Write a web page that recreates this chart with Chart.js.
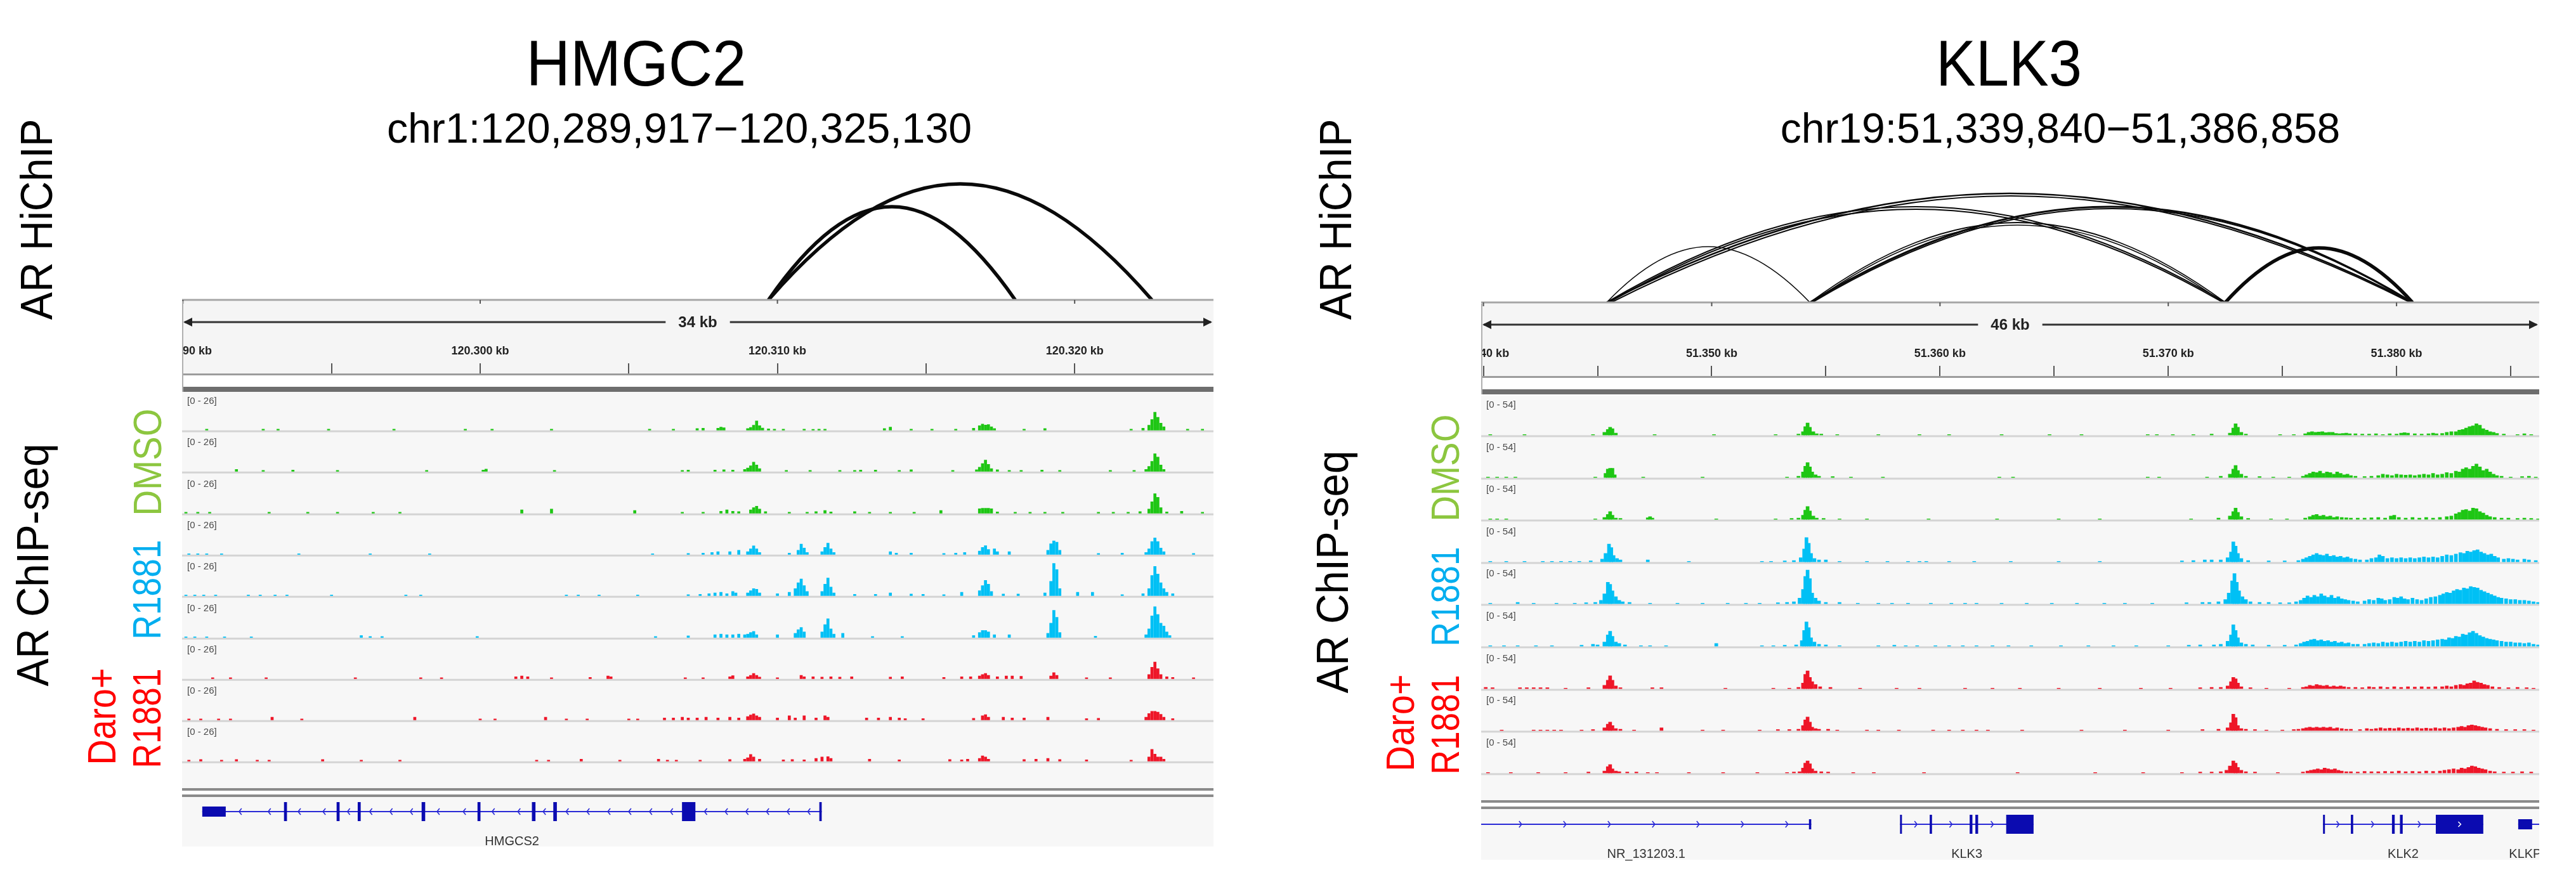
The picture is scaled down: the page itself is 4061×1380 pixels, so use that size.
<!DOCTYPE html>
<html>
<head>
<meta charset="utf-8">
<script src="https://cdn.jsdelivr.net/npm/chart.js@4.4.1/dist/chart.umd.min.js"></script>
<style>
  body { margin:0; width:4061px; height:1380px; background:#fff; position:relative; overflow:hidden;
         font-family:"Liberation Sans", Arial, Helvetica, sans-serif; }
  canvas { position:absolute; display:block; }
  .blk { position:absolute; }
  .lbl { position:absolute; white-space:nowrap; line-height:1; font-family:"Liberation Sans", Arial, sans-serif; }
</style>
</head>
<body>
<script>
// ---------------- HMGC2 panel data (genomic positions in kb) ----------------
var hmgcRange = [120289.97, 120324.67];
var hmgcArcs = [[120309.7, 120318.0, 147], [120309.7, 120322.6, 183]];   // [anchor1, anchor2, score]
var hmgcDataRange = 26;

var hmgcDmso1 = [[120290.8,0.8],[120292.7,0.8],[120293.2,0.8],[120294.9,0.8],[120297.1,0.8],[120299.5,0.8],[120300.4,0.8],[120302.4,0.8],[120305.7,0.8],[120306.5,0.8],[120307.3,1.2],[120307.5,1.5],
  [120308.0,1.5],[120308.1,2.2],[120308.2,1.8],[120309.0,1.2],[120309.1,2.0],[120309.2,3.5],[120309.3,6.5],[120309.4,3.2],[120309.5,1.6],[120309.7,1.0],[120309.9,0.8],
  [120310.2,0.8],[120310.9,0.8],[120311.2,0.7],[120311.4,0.8],[120311.6,0.8],[120313.6,1.2],[120313.8,2.2],[120314.5,0.8],[120315.2,0.8],[120316.0,0.8],
  [120316.6,1.5],[120316.8,3.2],[120316.9,4.3],[120317.0,3.6],[120317.1,4.0],[120317.2,2.5],[120317.3,1.2],[120318.3,0.8],[120319.0,1.2],[120321.9,0.8],[120322.3,1.5],
  [120322.5,3.5],[120322.6,7.5],[120322.7,12.5],[120322.8,9.0],[120322.9,5.0],[120323.0,2.5],[120323.8,0.8],[120324.3,0.8]];
var hmgcDmso2 = [[120291.8,1.5],[120292.7,0.8],[120293.7,1.0],[120295.2,0.8],[120298.2,0.8],[120300.1,1.0],[120300.2,1.7],[120302.5,0.8],
  [120306.8,0.8],[120307.0,1.0],[120307.9,1.0],[120308.2,1.2],[120308.5,1.0],[120308.9,1.5],[120309.0,2.5],[120309.1,4.0],[120309.2,6.5],[120309.3,4.5],[120309.4,2.0],
  [120310.3,0.8],[120311.1,0.8],[120312.1,0.8],[120312.6,0.8],[120312.8,1.0],[120313.3,1.0],[120314.1,0.8],[120314.5,1.2],[120315.9,0.8],
  [120316.7,1.2],[120316.8,3.0],[120316.9,5.5],[120317.0,7.9],[120317.1,5.0],[120317.2,2.0],[120317.4,1.2],[120317.8,0.8],[120318.2,0.8],
  [120318.9,1.0],[120319.5,0.8],[120321.2,0.8],[120322.0,0.8],[120322.4,1.5],[120322.5,3.5],[120322.6,7.0],[120322.7,12.3],[120322.8,10.0],[120322.9,4.5],[120323.0,1.5]];
var hmgcDmso3 = [[120290.1,0.8],[120290.5,0.8],[120290.9,0.8],[120292.9,0.8],[120294.2,0.8],[120295.2,0.8],[120296.4,0.8],[120297.3,0.8],
  [120301.4,2.5],[120302.4,3.0],[120305.2,2.0],[120306.8,0.8],[120307.5,0.8],[120308.1,1.5],[120308.3,2.5],[120308.5,1.5],[120308.7,1.2],
  [120309.1,2.5],[120309.2,4.0],[120309.3,5.0],[120309.4,3.0],[120309.6,1.2],[120310.4,0.8],[120311.0,0.8],[120311.3,1.2],[120311.6,2.0],[120311.8,1.0],
  [120312.6,1.2],[120313.1,0.8],[120313.8,0.8],[120314.6,0.8],[120315.5,2.0],[120316.8,3.2],[120316.9,3.5],[120317.0,3.5],[120317.1,3.5],[120317.2,3.2],[120317.4,1.0],
  [120318.0,0.8],[120318.5,0.8],[120319.0,0.8],[120319.6,0.8],[120320.8,0.8],[120321.3,0.8],[120321.8,0.8],[120322.2,1.2],
  [120322.5,3.0],[120322.6,8.0],[120322.7,13.5],[120322.8,11.0],[120322.9,4.0],[120323.1,1.0],[120323.6,1.5],[120324.3,0.8]];
var hmgcR1881a = [[120290.2,0.6],[120290.5,0.6],[120290.8,0.6],[120291.3,0.6],[120293.9,0.6],[120296.3,0.6],[120298.3,0.6],[120305.8,0.6],
  [120307.0,0.8],[120307.5,1.0],[120307.8,1.5],[120308.0,2.0],[120308.4,2.0],[120308.7,3.0],[120309.0,2.0],[120309.1,4.0],[120309.2,6.0],[120309.3,4.0],[120309.4,1.5],
  [120310.4,1.0],[120310.7,3.0],[120310.8,7.2],[120310.9,4.5],[120311.0,1.5],[120311.5,2.0],[120311.6,5.0],[120311.7,7.9],[120311.8,4.0],[120311.9,1.5],
  [120313.8,2.0],[120314.0,1.0],[120314.5,1.0],[120315.6,0.8],[120316.0,1.0],[120316.3,1.5],[120316.8,2.5],[120316.9,5.0],[120317.0,6.2],[120317.1,3.5],[120317.3,4.0],[120317.4,2.0],[120317.8,2.0],
  [120319.1,3.0],[120319.2,7.5],[120319.3,9.4],[120319.4,8.5],[120319.5,3.0],[120320.8,0.8],[120321.6,1.0],
  [120322.4,1.5],[120322.5,4.0],[120322.6,9.0],[120322.7,11.5],[120322.8,9.0],[120322.9,4.5],[120323.0,2.0],[120324.0,0.8]];
var hmgcR1881b = [[120290.1,0.6],[120290.4,0.6],[120290.7,0.6],[120291.1,0.6],[120292.2,0.6],[120292.6,0.6],[120293.1,0.6],[120293.5,0.6],[120295.0,0.6],[120297.5,0.6],[120298.0,0.6],
  [120302.9,0.6],[120303.3,0.6],[120304.0,0.6],[120305.3,0.6],[120307.0,0.8],[120307.4,1.0],[120307.7,1.5],[120307.9,2.0],[120308.1,2.5],[120308.3,1.5],[120308.5,3.0],[120308.6,2.0],
  [120309.0,2.0],[120309.1,3.5],[120309.2,5.0],[120309.3,4.5],[120309.4,2.0],[120310.0,1.5],[120310.4,2.5],[120310.6,5.0],[120310.7,9.0],[120310.8,11.6],[120310.9,7.0],[120311.0,3.0],
  [120311.5,3.0],[120311.6,8.0],[120311.7,12.3],[120311.8,6.0],[120311.9,2.0],[120312.6,1.0],[120313.3,1.0],[120313.8,2.0],[120314.5,1.2],[120314.9,1.0],[120315.6,0.8],[120316.2,2.5],
  [120316.8,3.5],[120316.9,7.0],[120317.0,10.6],[120317.1,8.0],[120317.2,3.0],[120317.6,1.2],[120318.1,1.2],[120319.0,2.0],[120319.2,10.0],[120319.3,22.3],[120319.4,18.0],[120319.5,5.0],
  [120320.1,2.5],[120320.6,2.5],[120321.6,0.8],[120322.3,1.5],[120322.5,5.0],[120322.6,14.0],[120322.7,20.2],[120322.8,15.0],[120322.9,9.0],[120323.0,5.0],[120323.1,2.5],[120323.3,1.5]];
var hmgcR1881c = [[120290.1,0.6],[120290.4,0.6],[120290.8,0.6],[120291.4,0.6],[120292.3,0.6],[120296.0,1.5],[120296.3,0.8],[120296.7,0.8],[120299.9,0.8],[120305.9,0.8],[120307.0,1.2],
  [120307.9,2.0],[120308.1,2.5],[120308.3,2.0],[120308.5,2.0],[120308.7,2.5],[120308.9,2.0],[120309.0,2.5],[120309.1,3.5],[120309.2,4.3],[120309.3,2.0],[120310.0,2.0],
  [120310.6,3.0],[120310.7,5.5],[120310.8,7.0],[120310.9,4.0],[120311.5,4.0],[120311.6,9.0],[120311.7,13.0],[120311.8,6.0],[120311.9,2.5],[120312.2,3.0],[120313.2,0.8],[120314.2,0.8],
  [120316.6,1.5],[120316.8,3.5],[120316.9,5.0],[120317.0,5.0],[120317.1,4.0],[120317.3,2.0],[120317.8,2.0],[120319.1,3.0],[120319.2,10.0],[120319.3,18.8],[120319.4,14.0],[120319.5,3.5],
  [120320.7,1.0],[120322.4,2.0],[120322.5,6.0],[120322.6,15.0],[120322.7,21.3],[120322.8,16.0],[120322.9,10.0],[120323.0,8.0],[120323.1,4.0],[120323.2,1.5]];
var hmgcDaroA = [[120291.0,0.8],[120291.6,0.8],[120292.8,0.8],[120295.8,0.8],[120298.0,0.8],[120298.7,0.8],[120301.2,1.5],[120301.4,2.0],[120301.6,1.5],[120302.4,0.8],[120303.7,1.0],[120304.3,2.0],[120304.4,1.5],
  [120306.9,0.8],[120307.5,0.8],[120308.4,1.5],[120308.5,2.2],[120309.0,1.5],[120309.1,2.5],[120309.2,3.7],[120309.3,2.5],[120309.4,1.2],[120310.0,0.8],
  [120310.8,2.5],[120310.9,1.5],[120311.2,1.5],[120311.5,1.2],[120311.8,1.5],[120312.1,1.2],[120312.5,1.5],[120313.8,1.2],[120314.2,1.5],
  [120315.6,1.0],[120316.2,1.5],[120316.5,1.5],[120316.8,2.0],[120316.9,3.0],[120317.0,3.7],[120317.1,2.5],[120317.4,1.5],[120317.7,2.0],[120317.9,2.0],[120318.2,1.8],
  [120319.2,2.0],[120319.3,4.3],[120319.4,2.5],[120320.4,0.8],[120321.2,0.8],[120322.5,3.0],[120322.6,8.0],[120322.7,11.6],[120322.8,7.0],[120322.9,3.0],[120323.1,1.5],[120323.3,1.0],[120324.0,0.8]];
var hmgcDaroB = [[120290.2,0.8],[120290.6,0.8],[120291.2,0.8],[120291.6,0.8],[120293.0,2.0],[120294.0,0.8],[120297.8,2.0],[120300.0,0.8],[120300.5,0.8],[120302.2,2.0],[120302.9,0.8],[120303.6,0.8],
  [120305.0,0.8],[120305.3,0.8],[120306.2,1.5],[120306.5,1.5],[120306.8,2.0],[120307.0,1.5],[120307.3,1.5],[120307.6,2.0],[120308.0,1.5],[120308.4,2.0],[120308.7,1.5],
  [120309.0,2.5],[120309.1,3.5],[120309.2,4.3],[120309.3,3.0],[120309.4,2.0],[120310.0,1.5],[120310.4,3.0],[120310.6,1.5],[120310.9,3.0],[120311.3,1.5],[120311.6,3.0],[120311.7,2.0],
  [120313.0,1.5],[120313.4,1.5],[120313.8,2.0],[120314.1,1.5],[120314.3,1.0],[120314.9,1.0],[120316.6,1.2],[120316.9,3.0],[120317.0,3.7],[120317.1,2.0],[120317.6,2.0],[120317.9,1.5],[120318.3,1.5],[120319.1,2.0],
  [120320.4,1.0],[120320.8,1.2],[120322.4,2.0],[120322.5,4.5],[120322.6,6.0],[120322.7,6.0],[120322.8,5.5],[120322.9,4.0],[120323.0,2.0],[120323.3,1.0]];
var hmgcDaroC = [[120290.2,0.8],[120290.6,1.2],[120291.3,0.8],[120291.8,1.2],[120292.5,0.8],[120292.9,0.8],[120294.7,1.2],[120296.0,0.8],[120297.3,0.8],
  [120301.9,0.8],[120302.3,0.8],[120303.4,1.5],[120304.7,0.8],[120306.0,1.5],[120306.3,0.8],[120306.6,0.8],[120307.4,0.8],[120308.4,1.2],[120308.9,1.5],[120309.0,2.5],[120309.1,4.7],[120309.2,3.0],[120309.4,1.5],
  [120310.2,1.0],[120310.5,1.2],[120310.9,1.0],[120311.3,2.0],[120311.5,3.0],[120311.7,3.2],[120311.8,2.0],[120313.1,1.5],[120314.1,1.0],[120315.8,1.2],[120316.2,1.0],[120316.4,1.5],
  [120316.8,2.0],[120316.9,3.7],[120317.0,3.0],[120317.1,1.5],[120318.3,1.2],[120318.7,1.5],[120319.1,2.0],[120319.5,1.2],[120320.4,1.0],[120321.9,0.8],
  [120322.5,3.0],[120322.6,8.2],[120322.7,5.0],[120322.8,3.0],[120322.9,3.0],[120323.0,1.5]];

var hmgcGeneNames = ['HMGCS2'];
var hmgcGeneStart = [120290.65];
var hmgcGeneEnd = [120311.49];
var hmgcGeneStrand = ['-'];
var hmgcExons = [[[120290.65,120291.44,'u'],[120293.40,120293.50,'c'],[120295.17,120295.27,'c'],[120295.88,120295.98,'c'],[120298.03,120298.15,'c'],
  [120299.91,120300.01,'c'],[120301.74,120301.86,'c'],[120302.46,120302.58,'c'],[120306.79,120307.24,'c'],[120311.41,120311.49,'c']]];

// ---------------- KLK3 panel data ----------------
var klkRange = [51339.9, 51386.25];
var klkArcs = [[51345.4, 51380.7, 172], [51345.6, 51380.6, 168], [51345.4, 51372.5, 151], [51345.5, 51372.4, 147], [51345.4, 51354.3, 88],
  [51354.3, 51372.5, 126], [51354.4, 51372.4, 122], [51354.3, 51380.7, 151], [51354.4, 51380.7, 148], [51372.5, 51380.7, 86]];
var klkDataRange = 54;

var klkDmso1 = [[51340.3,1],[51341.8,1],[51344.8,1],[51345.3,4],[51345.45,8],[51345.55,11],[51345.65,9],[51345.8,3],[51347.5,1],[51350.1,1],[51352.8,1],[51353.8,1.5],
  [51354.0,5],[51354.1,12],[51354.2,17],[51354.3,11],[51354.45,5],[51354.6,2],[51354.8,1.5],[51355.5,1],[51357.3,1],[51359.1,1],[51360.4,1],[51362.7,1],[51364.8,1],[51366.2,1],[51369.1,1],[51369.5,1],[51370.2,1],[51371.1,1],[51371.9,1.5],
  [51372.7,3],[51372.85,10],[51372.95,16],[51373.05,11],[51373.2,4],[51373.4,1.5],[51374.9,1],[51375.5,1],
  [51376.0,2],[51376.15,4],[51376.3,5],[51376.45,4],[51376.6,4.5],[51376.75,5],[51376.9,3.5],[51377.05,4],[51377.2,4],[51377.35,2.5],[51377.5,2],[51377.65,2.5],[51377.8,3],[51377.95,2],[51378.2,2],[51378.5,1.5],
  [51378.8,1.5],[51379.1,2],[51379.4,1],[51379.7,2],[51380.0,1.5],[51380.2,3],[51380.35,3.5],[51380.5,3],[51380.8,2],[51381.1,1.5],[51381.4,2],[51381.6,3],[51381.75,2],[51382.0,2.5],
  [51382.2,4],[51382.4,5],[51382.6,5],[51382.75,7],[51382.9,8],[51383.05,10],[51383.2,12],[51383.35,13],[51383.5,16],[51383.65,14],[51383.8,9],[51383.95,7],[51384.1,5],[51384.25,4],[51384.4,2.5],[51384.7,1.5],
  [51385.3,1],[51385.6,2],[51385.9,1]];
var klkDmso2 = [[51340.2,1],[51340.6,1],[51341.0,1],[51341.4,1],[51344.9,1],[51345.35,6],[51345.45,12],[51345.55,13],[51345.65,13],[51345.75,4],[51347.0,1],[51349.6,1],[51353.3,1],[51353.8,2],
  [51354.0,8],[51354.1,16],[51354.2,21],[51354.3,15],[51354.4,8],[51354.55,4],[51354.7,2],[51355.3,1.5],[51356.1,1],[51357.5,1],[51362.6,1],[51363.2,1],[51369.1,1],[51369.6,1],[51371.7,1],[51372.3,2],
  [51372.7,5],[51372.85,12],[51372.95,17],[51373.05,10],[51373.2,5],[51373.4,2],[51374.0,1.5],[51374.6,1],[51375.3,1],
  [51375.9,2],[51376.05,4],[51376.2,6],[51376.35,8],[51376.5,7],[51376.65,9],[51376.8,6],[51376.95,8],[51377.1,7],[51377.25,5],[51377.4,8],[51377.55,6],[51377.7,4],[51377.85,5],[51378.0,3],[51378.2,2],
  [51378.6,1.5],[51378.9,2],[51379.2,3],[51379.4,5],[51379.6,4],[51379.8,3],[51380.0,5],[51380.2,4],[51380.4,3.5],[51380.6,4],[51380.8,3],[51381.0,4],[51381.2,5],[51381.4,4],[51381.6,6],[51381.8,4],
  [51382.0,5],[51382.2,7],[51382.4,6],[51382.6,9],[51382.75,8],[51382.9,12],[51383.05,14],[51383.2,12],[51383.35,16],[51383.5,19],[51383.65,15],[51383.8,10],[51383.95,12],[51384.1,8],[51384.25,5],[51384.4,3],[51384.6,2],
  [51385.0,1],[51385.5,1.5],[51385.8,2],[51386.1,1]];
var klkDmso3 = [[51340.3,1],[51340.6,1],[51341.0,1],[51344.9,1],[51345.3,3],[51345.45,7],[51345.55,11],[51345.65,6],[51345.8,2],[51346.0,1.5],[51347.2,2.5],[51347.3,4],[51347.4,2],
  [51350.2,1],[51352.8,1],[51353.5,1.5],[51353.8,2],[51354.0,6],[51354.1,13],[51354.2,18],[51354.3,12],[51354.45,5],[51354.6,2],[51354.9,1.5],[51355.6,1],[51356.8,1],[51359.5,1],[51362.5,1],[51365.2,1],[51367.0,1],[51371.0,1],[51372.2,2],
  [51372.7,5],[51372.85,11],[51372.95,16],[51373.05,10],[51373.2,4],[51373.5,1.5],[51374.5,1],[51375.2,1],
  [51376.0,2],[51376.2,4],[51376.35,6],[51376.5,7],[51376.65,5],[51376.8,6],[51376.95,4],[51377.1,5],[51377.25,3],[51377.4,4],[51377.6,3],[51377.8,2.5],[51378.0,2],[51378.3,2],
  [51378.6,2],[51378.9,2.5],[51379.2,3],[51379.5,2],[51379.75,5],[51379.9,6],[51380.1,3],[51380.4,2],[51380.7,3],[51381.0,2],[51381.3,3],[51381.6,2],[51381.9,3],
  [51382.2,4],[51382.4,5],[51382.6,8],[51382.75,10],[51382.9,13],[51383.05,14],[51383.2,12],[51383.35,16],[51383.5,15],[51383.65,11],[51383.8,9],[51383.95,6],[51384.1,4],[51384.3,3],[51384.6,2],[51384.9,2],
  [51385.3,1.5],[51385.6,2],[51385.9,1.5],[51386.2,1]];
var klkR1881a = [[51340.3,1],[51341.0,1],[51341.8,1],[51342.6,1],[51343.0,1],[51343.4,1],[51343.8,1],[51344.2,1],[51344.7,1.5],
  [51345.2,4],[51345.35,12],[51345.5,25],[51345.6,20],[51345.7,9],[51345.85,5],[51346.0,3],[51347.2,3],[51349.0,1],[51352.2,1],[51352.6,1],[51353.2,1.5],[51353.6,2],
  [51353.9,6],[51354.05,18],[51354.15,34],[51354.25,26],[51354.35,12],[51354.5,5],[51354.7,3],[51355.0,3],[51355.6,1],[51356.8,1],[51357.7,1],[51358.6,1],[51359.1,1],[51359.4,1],[51360.4,1],[51361.5,1],[51363.1,1],[51365.2,1],[51367.0,1],[51370.6,1.5],[51371.1,2],[51371.6,3],[51371.9,3],[51372.3,3],
  [51372.6,6],[51372.75,14],[51372.85,28],[51372.95,22],[51373.05,12],[51373.2,5],[51373.5,2],[51374.4,1.5],[51375.1,1.5],
  [51375.7,2],[51375.9,4],[51376.05,6],[51376.2,8],[51376.35,10],[51376.5,12],[51376.65,10],[51376.8,9],[51376.95,11],[51377.1,8],[51377.25,9],[51377.4,7],[51377.55,8],[51377.7,6],[51377.85,7],[51378.0,5],[51378.2,4],[51378.4,3],
  [51378.7,3],[51378.9,5],[51379.1,6],[51379.25,10],[51379.4,8],[51379.6,5],[51379.8,6],[51380.0,5],[51380.2,6],[51380.4,5],[51380.6,6],[51380.8,5],[51381.0,6],[51381.2,7],[51381.4,6],[51381.6,7],[51381.8,6],
  [51382.0,8],[51382.2,10],[51382.4,9],[51382.6,11],[51382.8,13],[51382.95,12],[51383.1,15],[51383.25,14],[51383.4,16],[51383.55,17],[51383.7,14],[51383.85,12],[51384.0,10],[51384.15,11],[51384.3,8],[51384.45,6],
  [51384.7,4],[51384.9,5],[51385.1,4],[51385.3,3],[51385.6,4],[51385.8,3],[51386.1,2]];
var klkR1881b = [[51340.3,1],[51341.5,2],[51342.2,1],[51343.2,1],[51344.0,1],[51344.5,1.5],[51344.9,2],
  [51345.15,5],[51345.3,14],[51345.45,30],[51345.55,27],[51345.65,18],[51345.8,10],[51345.95,5],[51346.1,3],[51346.4,2],
  [51347.3,1],[51348.5,1],[51349.6,1],[51350.7,1],[51351.5,1],[51352.1,1],[51352.9,1.5],[51353.3,2],[51353.6,3],
  [51353.85,8],[51354.0,20],[51354.1,38],[51354.2,47],[51354.3,35],[51354.4,15],[51354.55,8],[51354.7,4],[51355.0,2],[51355.6,2],[51356.4,1],[51357.3,1],[51357.9,1],[51358.6,1],[51359.6,1],[51360.5,1],[51361.1,1],[51361.6,1],[51362.7,1],[51363.8,1],[51364.9,1],[51366.0,1],[51367.2,1],[51368.1,1],[51369.3,1],[51370.8,1.5],[51371.5,2],[51371.8,2],[51372.2,3],
  [51372.5,6],[51372.65,15],[51372.8,32],[51372.9,42],[51373.0,30],[51373.1,18],[51373.25,10],[51373.4,6],[51373.6,3],[51374.0,2],[51374.4,2],[51374.9,1.5],[51375.3,1.5],
  [51375.6,3],[51375.8,5],[51375.95,8],[51376.1,11],[51376.25,9],[51376.4,12],[51376.55,10],[51376.7,14],[51376.85,11],[51377.0,9],[51377.15,12],[51377.3,8],[51377.45,10],[51377.6,7],[51377.75,6],[51377.9,5],[51378.1,4],[51378.3,3],
  [51378.6,4],[51378.8,6],[51379.0,5],[51379.2,8],[51379.35,7],[51379.5,5],[51379.7,6],[51379.9,9],[51380.05,8],[51380.2,10],[51380.35,7],[51380.5,6],[51380.7,8],[51380.9,6],[51381.1,5],[51381.3,7],[51381.5,9],[51381.7,10],[51381.9,12],
  [51382.05,14],[51382.2,16],[51382.35,15],[51382.5,18],[51382.65,20],[51382.8,19],[51382.95,22],[51383.1,21],[51383.25,24],[51383.4,23],[51383.55,22],[51383.7,19],[51383.85,17],[51384.0,15],[51384.15,13],[51384.3,11],[51384.45,9],[51384.6,8],
  [51384.8,7],[51385.0,6],[51385.2,6],[51385.4,5],[51385.6,5],[51385.8,4],[51386.0,3],[51386.2,2]];
var klkR1881c = [[51340.3,1],[51340.9,1],[51341.5,1],[51342.3,1],[51343.0,1],[51344.3,1.5],[51344.8,3],[51345.0,2],
  [51345.3,6],[51345.45,16],[51345.55,21],[51345.65,14],[51345.8,6],[51345.95,4],[51346.2,2],[51346.9,1],[51347.3,1],[51348.0,1],[51350.2,4],[51352.2,1],[51352.7,1],[51353.2,1.5],[51353.7,2],
  [51353.95,8],[51354.05,22],[51354.15,34],[51354.25,26],[51354.35,12],[51354.5,6],[51354.7,3],[51355.0,2],[51355.6,1],[51357.3,1],[51358.0,1.5],[51358.5,1],[51359.0,1],[51359.8,1],[51360.4,1],[51361.0,1],[51361.6,1],[51362.3,1],[51363.0,1],[51364.0,1],[51365.3,1],[51366.5,1],[51367.6,1],[51368.6,1],[51370.0,1],[51370.9,1.5],[51371.4,2],[51372.0,2],[51372.3,3],
  [51372.6,7],[51372.75,16],[51372.85,30],[51372.95,22],[51373.05,12],[51373.2,5],[51373.4,3],[51373.7,2],[51374.4,1.5],[51375.1,1.5],
  [51375.6,2],[51375.8,4],[51375.95,6],[51376.1,7],[51376.25,9],[51376.4,10],[51376.55,8],[51376.7,9],[51376.85,7],[51377.0,8],[51377.15,6],[51377.3,7],[51377.45,5],[51377.6,6],[51377.75,4],[51377.9,5],[51378.1,3],[51378.3,3],
  [51378.6,3],[51378.8,4],[51379.0,5],[51379.2,4],[51379.4,6],[51379.6,5],[51379.8,6],[51380.0,5],[51380.2,6],[51380.4,7],[51380.6,6],[51380.8,7],[51381.0,6],[51381.2,8],[51381.4,7],[51381.6,8],[51381.8,9],
  [51382.0,10],[51382.15,9],[51382.3,12],[51382.45,11],[51382.6,14],[51382.75,13],[51382.9,17],[51383.05,16],[51383.2,19],[51383.35,21],[51383.5,18],[51383.65,15],[51383.8,13],[51383.95,11],[51384.1,10],[51384.25,9],[51384.4,8],
  [51384.6,7],[51384.8,6],[51385.0,6],[51385.2,5],[51385.4,5],[51385.6,4],[51385.8,5],[51386.0,3],[51386.2,2]];
var klkDaroA = [[51340.1,2],[51340.4,1.5],[51341.6,1.5],[51341.9,1.5],[51342.2,1.5],[51342.5,1.5],[51342.8,1.5],[51343.6,1],[51344.6,1.5],
  [51345.3,5],[51345.45,12],[51345.55,18],[51345.65,12],[51345.8,4],[51346.0,1.5],[51347.4,1.5],[51347.8,1.5],[51350.6,1],[51352.7,1],[51353.4,1],[51353.8,2],
  [51354.0,8],[51354.1,20],[51354.2,25],[51354.3,16],[51354.4,10],[51354.55,6],[51354.75,3],[51355.2,2],[51356.5,1],[51358.1,1],[51359.1,1],[51361.1,1],[51362.3,1],[51363.5,1],[51365.2,1],[51367.0,1],[51368.8,1],[51370.1,1],[51371.4,1.5],[51371.9,2],[51372.3,2],
  [51372.6,4],[51372.75,10],[51372.85,16],[51372.95,14],[51373.05,8],[51373.2,3],[51373.6,1.5],[51374.3,1],[51375.3,1],
  [51375.9,2],[51376.05,3],[51376.2,5],[51376.35,4],[51376.5,6],[51376.65,5],[51376.8,4],[51376.95,5],[51377.1,3],[51377.25,4],[51377.4,3],[51377.55,4],[51377.7,3],[51377.9,2],[51378.2,2],
  [51378.5,1.5],[51378.8,3],[51379.0,2],[51379.3,3],[51379.6,2],[51379.9,3],[51380.2,2],[51380.5,3],[51380.8,2.5],[51381.1,3],[51381.4,2.5],[51381.7,3],[51382.0,3],
  [51382.2,4],[51382.4,3],[51382.6,5],[51382.8,6],[51382.95,5],[51383.1,7],[51383.25,8],[51383.4,11],[51383.55,9],[51383.7,8],[51383.85,6],[51384.0,5],[51384.2,3],[51384.5,2],
  [51384.9,1.5],[51385.3,2],[51385.7,1.5],[51386.0,1]];
var klkDaroB = [[51340.8,1],[51342.2,1],[51342.5,1],[51342.8,1],[51343.1,1],[51343.4,1],[51344.3,1],[51344.8,1.5],
  [51345.3,4],[51345.45,9],[51345.55,12],[51345.65,7],[51345.8,3],[51346.0,2],[51346.6,1],[51347.8,4],[51349.6,1],[51350.5,1],[51352.1,1],[51352.9,1.5],[51353.4,1.5],[51353.8,2],
  [51354.0,7],[51354.1,15],[51354.2,19],[51354.3,12],[51354.4,5],[51354.55,3],[51354.7,2],[51355.1,2],[51355.5,1],[51356.8,1],[51357.3,1],[51358.2,1],[51359.7,1],[51360.4,1],[51361.0,1],[51361.6,1],[51362.1,1],[51363.6,1],[51366.2,1],[51368.1,1],[51370.0,1],[51371.5,1.5],[51372.2,2],
  [51372.6,4],[51372.75,11],[51372.85,23],[51372.95,18],[51373.05,7],[51373.2,3],[51373.4,2],[51373.8,1.5],[51374.3,1],[51375.0,1],
  [51375.5,1.5],[51375.7,2],[51375.9,3],[51376.05,4],[51376.2,5],[51376.35,4],[51376.5,5],[51376.65,4],[51376.8,5],[51376.95,4],[51377.1,5],[51377.25,3],[51377.4,4],[51377.6,3],[51377.8,2],[51378.0,2],
  [51378.4,1.5],[51378.7,3],[51378.9,2],[51379.1,3],[51379.3,4],[51379.5,3],[51379.7,3.5],[51379.9,3],[51380.1,4],[51380.3,3],[51380.5,3.5],[51380.7,3],[51380.9,4],[51381.1,3],[51381.3,3.5],[51381.5,3],[51381.7,4],[51381.9,3],
  [51382.1,4],[51382.3,3],[51382.5,4],[51382.7,5],[51382.85,6],[51383.0,5],[51383.15,7],[51383.3,8],[51383.45,7],[51383.6,6],[51383.75,5],[51383.9,4],[51384.1,3],[51384.4,2],
  [51384.8,1.5],[51385.2,1.5],[51385.6,1.5],[51386.0,1]];
var klkDaroC = [[51340.2,1],[51341.2,1],[51342.4,1],[51343.6,1],[51344.6,1.5],[51345.3,3],[51345.45,9],[51345.55,12],[51345.65,6],[51345.8,3],[51345.95,2],[51346.3,1.5],[51346.7,1.5],[51347.2,1],[51347.6,1],
  [51349.0,1],[51350.5,1],[51352.0,1],[51353.3,1],[51353.6,1.5],[51353.85,2],[51354.0,7],[51354.1,14],[51354.2,17],[51354.3,13],[51354.4,6],[51354.55,3],[51354.8,2],[51355.1,1.5],[51356.2,1],[51357.1,1],[51359.3,1],[51363.4,1],[51366.8,1],[51368.9,1],[51370.6,1],[51371.4,1.5],[51371.9,1.5],[51372.3,2],
  [51372.55,4],[51372.7,10],[51372.85,17],[51372.95,14],[51373.05,8],[51373.2,4],[51373.4,2],[51373.8,1.5],[51374.8,1],
  [51375.9,1.5],[51376.1,3],[51376.25,4],[51376.4,5],[51376.55,6],[51376.7,5],[51376.85,7],[51377.0,6],[51377.15,5],[51377.3,6],[51377.45,4],[51377.6,3],[51377.8,2],[51378.0,2],
  [51378.3,1.5],[51378.6,2.5],[51378.9,2],[51379.2,2],[51379.5,2.5],[51379.8,2],[51380.1,3],[51380.4,2],[51380.7,2.5],[51381.0,2],[51381.3,3],[51381.6,2.5],[51381.9,3],
  [51382.1,4],[51382.3,5],[51382.5,6],[51382.7,5],[51382.85,7],[51383.0,6],[51383.15,8],[51383.3,10],[51383.45,9],[51383.6,7],[51383.75,6],[51383.9,5],[51384.1,3],[51384.3,2],
  [51384.7,1.5],[51385.1,1.5],[51385.5,2],[51385.9,1.5]];

var klkGeneNames = ['NR_131203.1', 'KLK3', 'KLK2', 'KLKP1'];
var klkGeneStart = [51338.5, 51358.25, 51376.78, 51385.33];
var klkGeneEnd = [51354.36, 51364.1, 51383.8, 51388.0];
var klkGeneStrand = ['+', '+', '+', '+'];
var klkExons = [
  [[51338.5,51338.7,'u'],[51354.26,51354.36,'u']],
  [[51358.25,51358.33,'c'],[51359.55,51359.65,'c'],[51361.3,51361.42,'c'],[51361.55,51361.67,'c'],[51362.9,51364.1,'c']],
  [[51376.78,51376.86,'c'],[51378.0,51378.1,'c'],[51379.8,51379.92,'c'],[51380.15,51380.27,'c'],[51381.72,51383.8,'c']],
  [[51385.33,51385.94,'u']]
];

var trackGroups = ['DMSO', 'R1881', 'Daro+R1881'];
var barColors = { 'DMSO':'rgb(30,198,20)', 'R1881':'rgb(0,192,245)', 'Daro+R1881':'rgb(238,22,40)' };

// ---------------- layout ----------------
var panels = [
  { range:hmgcRange, arcs:hmgcArcs, arcWidths:[5.5,5.5], dataRange:hmgcDataRange,
    tracks:[hmgcDmso1,hmgcDmso2,hmgcDmso3,hmgcR1881a,hmgcR1881b,hmgcR1881c,hmgcDaroA,hmgcDaroB,hmgcDaroC],
    genes:{names:hmgcGeneNames,start:hmgcGeneStart,end:hmgcGeneEnd,strand:hmgcGeneStrand,exons:hmgcExons},
    x0:287, x1:1913, arcBase:473, rulerTop:465, trackTop:619, trackH:65.3, trackBase:60,
    dbl:1245, geneTop:1258, bgEnd:1335, chevGap:31, barW:4 },
  { range:klkRange, arcs:klkArcs, arcWidths:[2.6,2,2.2,2,1.6,1.8,1.6,3,2.2,5.5], dataRange:klkDataRange,
    tracks:[klkDmso1,klkDmso2,klkDmso3,klkR1881a,klkR1881b,klkR1881c,klkDaroA,klkDaroB,klkDaroC],
    genes:{names:klkGeneNames,start:klkGeneStart,end:klkGeneEnd,strand:klkGeneStrand,exons:klkExons},
    x0:2335, x1:4003, arcBase:477, rulerTop:469, trackTop:625, trackH:66.6, trackBase:61,
    dbl:1264, geneTop:1278, bgEnd:1356, chevGap:64, barW:5 }
];
var RULER_PAD = 100;

Chart.defaults.animation = false;
Chart.defaults.responsive = false;
Chart.defaults.devicePixelRatio = 1;
Chart.defaults.plugins.legend.display = false;
Chart.defaults.plugins.tooltip.enabled = false;
Chart.defaults.font.family = '"Liberation Sans", Arial, sans-serif';

function makeCanvas(x, y, w, h, parent) {
  var c = document.createElement('canvas');
  c.width = Math.round(w); c.height = Math.round(h);
  c.style.left = x + 'px'; c.style.top = y + 'px';
  (parent || document.body).appendChild(c);
  return c;
}
function block(x, y, w, h, col) {
  var d = document.createElement('div');
  d.className = 'blk';
  d.style.cssText = 'left:' + x + 'px;top:' + y + 'px;width:' + w + 'px;height:' + h + 'px;background:' + col;
  document.body.appendChild(d);
  return d;
}
var mctx = document.createElement('canvas').getContext('2d');
function label(t, cx, cy, fs, len, color, rotate) {
  var d = document.createElement('div');
  d.className = 'lbl';
  d.textContent = t;
  d.style.fontSize = fs + 'px';
  d.style.color = color;
  mctx.font = fs + 'px "Liberation Sans", Arial, sans-serif';
  var sx = len / mctx.measureText(t).width;
  d.style.left = cx + 'px'; d.style.top = cy + 'px';
  d.style.transform = 'translate(-50%,-50%)' + (rotate ? ' rotate(-90deg)' : '') + ' scaleX(' + sx.toFixed(3) + ')';
  document.body.appendChild(d);
}
function xScale(p) { return { type:'linear', min:p.range[0], max:p.range[1], display:false, offset:false }; }

var arcPlugin = {
  id:'arcs',
  afterDatasetsDraw: function(chart) {
    var p = chart.options.plugins.arcs.panel, ctx = chart.ctx;
    var xs = chart.scales.x, ys = chart.scales.y;
    ctx.save();
    ctx.strokeStyle = '#0a0a0a';
    p.arcs.forEach(function(a, i) {
      var xa = xs.getPixelForValue(a[0]), xb = xs.getPixelForValue(a[1]);
      var y0 = ys.getPixelForValue(0), h = (y0 - ys.getPixelForValue(a[2])) * 4 / 3, w = xb - xa;
      ctx.beginPath();
      ctx.moveTo(xa, y0);
      ctx.bezierCurveTo(xa + 0.35 * w, y0 - h, xb - 0.35 * w, y0 - h, xb, y0);
      ctx.lineWidth = p.arcWidths[i];
      ctx.stroke();
    });
    ctx.restore();
  }
};

function fmtTick(v) {
  var r = Math.round(v);
  if (r % 10 !== 0) return '';
  return Math.floor(r / 1000) + '.' + String(r % 1000).padStart(3, '0') + ' kb';
}

var rulerPlugin = {
  id:'ruler',
  beforeDraw: function(chart) {
    var ctx = chart.ctx, ca = chart.chartArea, w = ca.right - ca.left;
    ctx.save();
    ctx.fillStyle = '#f5f5f5';
    ctx.fillRect(ca.left, 10, w, ca.top - 10);
    ctx.fillStyle = '#6e6e6e';
    ctx.fillRect(ca.left, ca.top + 20, w, 8);
    ctx.restore();
  },
  afterDraw: function(chart) {
    var ctx = chart.ctx, ca = chart.chartArea, L = ca.left, R = ca.right, xs = chart.scales.x;
    ctx.save();
    // top line with small ticks
    ctx.strokeStyle = '#a5a5a5'; ctx.lineWidth = 3;
    ctx.beginPath(); ctx.moveTo(L, 8); ctx.lineTo(R, 8); ctx.stroke();
    ctx.strokeStyle = '#555'; ctx.lineWidth = 2;
    xs.ticks.forEach(function(t) {
      if (Math.round(t.value) % 10 !== 0) return;
      var x = xs.getPixelForValue(t.value);
      ctx.beginPath(); ctx.moveTo(x, 8); ctx.lineTo(x, 14); ctx.stroke();
    });
    // left border
    ctx.strokeStyle = '#b0b0b0'; ctx.lineWidth = 2;
    ctx.beginPath(); ctx.moveTo(L + 1, 10); ctx.lineTo(L + 1, ca.top + 28); ctx.stroke();
    // span arrow
    var span = Math.floor(xs.max - xs.min) + ' kb';
    ctx.font = 'bold 24px "Liberation Sans", Arial, sans-serif';
    var tw = ctx.measureText(span).width, cx = (L + R) / 2, ya = 43;
    ctx.strokeStyle = '#333'; ctx.fillStyle = '#222'; ctx.lineWidth = 3;
    ctx.beginPath();
    ctx.moveTo(L + 4, ya); ctx.lineTo(cx - tw / 2 - 20, ya);
    ctx.moveTo(cx + tw / 2 + 20, ya); ctx.lineTo(R - 4, ya);
    ctx.stroke();
    ctx.beginPath(); ctx.moveTo(L + 2, ya); ctx.lineTo(L + 16, ya - 7); ctx.lineTo(L + 16, ya + 7); ctx.closePath(); ctx.fill();
    ctx.beginPath(); ctx.moveTo(R - 2, ya); ctx.lineTo(R - 16, ya - 7); ctx.lineTo(R - 16, ya + 7); ctx.closePath(); ctx.fill();
    ctx.textAlign = 'center'; ctx.textBaseline = 'middle';
    ctx.fillText(span, cx, ya + 1);
    ctx.restore();
  }
};

var trackPlugin = {
  id:'trackDeco',
  beforeDatasetsDraw: function(chart) {
    var ctx = chart.ctx, y0 = chart.scales.y.getPixelForValue(0);
    ctx.save();
    ctx.fillStyle = '#d4d4d4';
    ctx.fillRect(0, y0, chart.width, 3);
    ctx.fillStyle = '#4a4a4a';
    ctx.font = '15px "Liberation Sans", Arial, sans-serif';
    ctx.textBaseline = 'middle';
    ctx.fillText('[0 - ' + chart.scales.y.max + ']', 8, 14);
    ctx.restore();
  }
};

var genePlugin = {
  id:'genes',
  afterDraw: function(chart) {
    var p = chart.options.plugins.genes.panel, g = p.genes, ctx = chart.ctx, xs = chart.scales.x;
    var yc = 22, blue = '#0b0bb0';
    ctx.save();
    g.names.forEach(function(name, i) {
      var gx1 = xs.getPixelForValue(g.start[i]), gx2 = xs.getPixelForValue(g.end[i]);
      var d = g.strand[i] === '+' ? 1 : -1;
      ctx.strokeStyle = '#2a2ad6'; ctx.lineWidth = 2;
      ctx.beginPath(); ctx.moveTo(gx1, yc); ctx.lineTo(gx2, yc); ctx.stroke();
      var ex = g.exons[i].map(function(e) { return [xs.getPixelForValue(e[0]), xs.getPixelForValue(e[1]), e[2]]; });
      // chevrons inside introns
      var bounds = [[gx1, gx1]].concat(ex).concat([[gx2, gx2]]);
      bounds.sort(function(a, b) { return a[0] - b[0]; });
      ctx.strokeStyle = '#2a2ad6'; ctx.lineWidth = 1.6;
      for (var k = 0; k < bounds.length - 1; k++) {
        var a = bounds[k][1], b = bounds[k + 1][0], gap = b - a;
        if (gap < 12) continue;
        var n = Math.max(1, Math.floor(gap / p.chevGap));
        for (var j = 0; j < n; j++) {
          var cx = a + gap * (j + 0.5) / n;
          ctx.beginPath(); ctx.moveTo(cx - 2 * d, yc - 5); ctx.lineTo(cx + 2 * d, yc); ctx.lineTo(cx - 2 * d, yc + 5); ctx.stroke();
        }
      }
      ex.forEach(function(e) {
        var hh = e[2] === 'c' ? 15 : 8;
        ctx.fillStyle = blue;
        ctx.fillRect(e[0], yc - hh, Math.max(3, e[1] - e[0]), hh * 2);
        if (e[1] - e[0] > 50) {
          var mx = (e[0] + e[1]) / 2;
          ctx.strokeStyle = '#fff'; ctx.lineWidth = 1.5;
          ctx.beginPath(); ctx.moveTo(mx - 2 * d, yc - 4); ctx.lineTo(mx + 2 * d, yc); ctx.lineTo(mx - 2 * d, yc + 4); ctx.stroke();
        }
      });
      var lx = (Math.max(gx1, 0) + Math.min(gx2, chart.width)) / 2;
      ctx.fillStyle = '#333';
      ctx.font = '20px "Liberation Sans", Arial, sans-serif';
      ctx.textAlign = 'center'; ctx.textBaseline = 'middle';
      ctx.fillText(name, lx, 69);
    });
    ctx.restore();
  }
};

panels.forEach(function(p) {
  var W = p.x1 - p.x0;

  // interaction arcs
  var arcCv = makeCanvas(p.x0, p.arcBase - 200, W, 200);
  new Chart(arcCv, {
    type:'scatter',
    data:{ datasets:[{ data:p.arcs.map(function(a) { return { x:a[0], y:0 }; }), pointRadius:0 }] },
    options:{ layout:{ padding:0, autoPadding:false },
      plugins:{ arcs:{ panel:p } },
      scales:{ x:xScale(p), y:{ min:0, max:200, display:false } } },
    plugins:[arcPlugin]
  });

  // ruler: canvas is wider than the track area and clipped by a wrapper so the edge labels are cut like IGV does
  var wrap = block(p.x0, p.rulerTop, W, 160, 'transparent');
  wrap.style.overflow = 'hidden';
  var rCv = makeCanvas(-RULER_PAD, 0, W + 2 * RULER_PAD, 160, wrap);
  new Chart(rCv, {
    type:'scatter',
    data:{ datasets:[] },
    options:{ layout:{ padding:{ top:70, left:RULER_PAD, right:RULER_PAD, bottom:0 }, autoPadding:false },
      scales:{
        x:{ type:'linear', position:'top', min:p.range[0], max:p.range[1], offset:false,
            afterFit:function(s) { s.height = 55; },
            ticks:{ stepSize:5, autoSkip:false, maxRotation:0, includeBounds:false, padding:8, color:'#222',
                    font:{ size:18, weight:'bold' }, callback:fmtTick },
            grid:{ display:true, drawOnChartArea:false, drawTicks:true, tickLength:17, color:'#555', lineWidth:2 },
            border:{ display:true, color:'#9c9c9c', width:3 } },
        y:{ min:0, max:1, display:false } } },
    plugins:[rulerPlugin]
  });

  // track area background and separators
  block(p.x0, p.trackTop - 1, W, p.bgEnd - p.trackTop + 1, '#f7f7f7');
  block(p.x0, p.dbl - 2, W, 4, '#8a8a8a');
  block(p.x0, p.dbl + 2, W, 6, '#ffffff');
  block(p.x0, p.dbl + 8, W, 4, '#8a8a8a');

  // ChIP-seq tracks
  p.tracks.forEach(function(tr, i) {
    var group = trackGroups[Math.floor(i / 3)];
    var cv = makeCanvas(p.x0, p.trackTop + i * p.trackH, W, p.trackH);
    new Chart(cv, {
      type:'bar',
      data:{ datasets:[{ data:tr.map(function(d) { return { x:d[0], y:d[1] }; }),
                         backgroundColor:barColors[group], barThickness:p.barW, borderWidth:0 }] },
      options:{ layout:{ padding:{ top:0, left:0, right:0, bottom:p.trackH - p.trackBase }, autoPadding:false },
        scales:{ x:xScale(p), y:{ min:0, max:p.dataRange, display:false } } },
      plugins:[trackPlugin]
    });
  });

  // gene annotation
  var gCv = makeCanvas(p.x0, p.geneTop, W, 80);
  new Chart(gCv, {
    type:'scatter',
    data:{ datasets:[] },
    options:{ layout:{ padding:0, autoPadding:false },
      plugins:{ genes:{ panel:p } },
      scales:{ x:xScale(p), y:{ min:0, max:1, display:false } } },
    plugins:[genePlugin]
  });
});

// titles
label('HMGC2', 1003, 135 - 0.3465 * 102, 102, 347, '#000');
label('chr1:120,289,917\u2212120,325,130', 1071, 225 - 0.3465 * 66, 66, 922, '#000');
label('KLK3', 3167, 135 - 0.3465 * 102, 102, 230, '#000');
label('chr19:51,339,840\u221251,386,858', 3248, 225 - 0.3465 * 66, 66, 883, '#000');

// side labels
var green = '#8cc63f', cyan = '#00aeef', red = '#ff0000';
[[0, 0], [2050, 1]].forEach(function(s) {
  var dx = s[0], r = s[1];
  label('AR HiChIP', dx + (r ? 56 : 58), 346, 70, 317, '#000', true);
  label('AR ChIP-seq', dx + (r ? 51 : 52), r ? 902 : 891, 70, 383, '#000', true);
  label('DMSO', dx + (r ? 228 : 232), r ? 738 : 729, 63, 169, green, true);
  label('R1881', dx + (r ? 228 : 231), r ? 941 : 930, 63, 157, cyan, true);
  label('Daro+', dx + (r ? 157 : 160), r ? 1140 : 1130, 63, 153, red, true);
  label('R1881', dx + (r ? 228 : 231), r ? 1143 : 1133, 63, 157, red, true);
});
</script>
</body>
</html>
